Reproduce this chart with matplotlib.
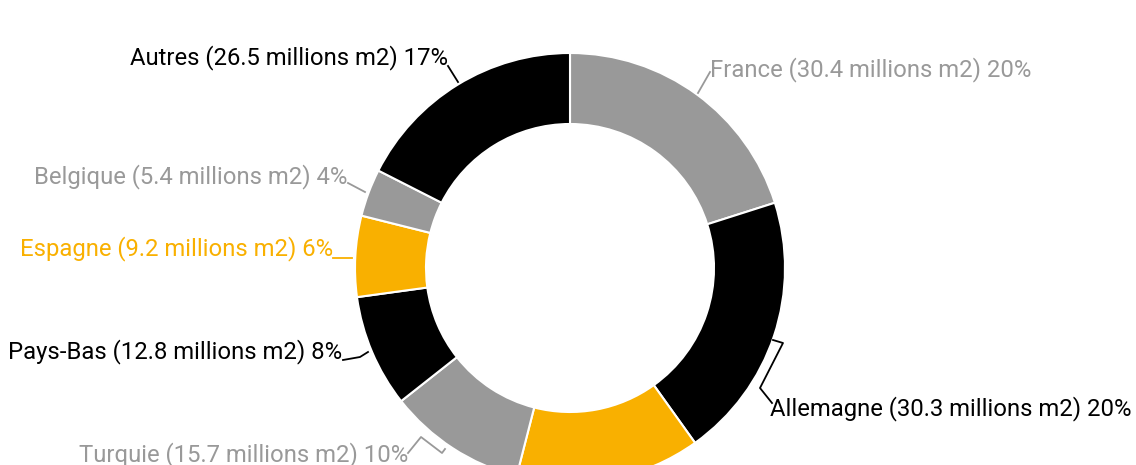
import matplotlib
matplotlib.use("Agg")
import matplotlib.pyplot as plt

categories = ["France", "Allemagne", "Italie", "Turquie", "Pays-Bas", "Espagne", "Belgique", "Autres"]
values = [30.4, 30.3, 21.0, 15.7, 12.8, 9.2, 5.4, 26.5]
percents = ["20%", "20%", "14%", "10%", "8%", "6%", "4%", "17%"]

GRAY = "#999999"
BLACK = "#000000"
YELLOW = "#F9B000"
colors = [GRAY, BLACK, YELLOW, GRAY, BLACK, YELLOW, GRAY, BLACK]

plt.rcParams['font.family'] = ['Roboto', 'DejaVu Sans']

fig = plt.figure(figsize=(11.36, 4.65), dpi=100)
ax = fig.add_axes([0, 0, 1, 1])

cx, cy, R, W = 570, 268, 215, 71
# y axis is inverted, so counter-clockwise in data = clockwise on screen
ax.pie(values, colors=colors, startangle=-90, counterclock=True,
       center=(cx, cy), radius=R,
       wedgeprops=dict(width=W, edgecolor="white", linewidth=1.5))
ax.set_xlim(0, 1136)
ax.set_ylim(465, 0)
ax.set_aspect('equal')
ax.axis('off')

# label layout: (x, y, ha, leader polyline)
layout = {
    "France": (710, 70, "left", [(698, 93), (710, 72)]),
    "Allemagne": (770, 409, "left", [(773, 340), (783, 343), (760, 388), (772, 403)]),
    "Turquie": (408, 455, "right", [(408, 453), (421, 437), (442, 453), (445, 449)]),
    "Pays-Bas": (342, 352, "right", [(343, 360), (360, 357), (368, 352)]),
    "Espagne": (333, 249, "right", [(333, 258), (352, 258)]),
    "Belgique": (347, 177, "right", [(348, 183), (365, 192)]),
    "Autres": (448, 58, "right", [(448, 66), (458, 82)]),
}

for cat, val, pct, col in zip(categories, values, percents, colors):
    if cat not in layout:
        continue
    x, y, ha, pts = layout[cat]
    ax.text(x, y, f"{cat} ({val:.1f} millions m2) {pct}", ha=ha, va="center",
            fontsize=17.2, color=col)
    xs = [p[0] for p in pts]
    ys = [p[1] for p in pts]
    ax.plot(xs, ys, color=col, linewidth=1.3)

fig.savefig("out.png", dpi=100)
